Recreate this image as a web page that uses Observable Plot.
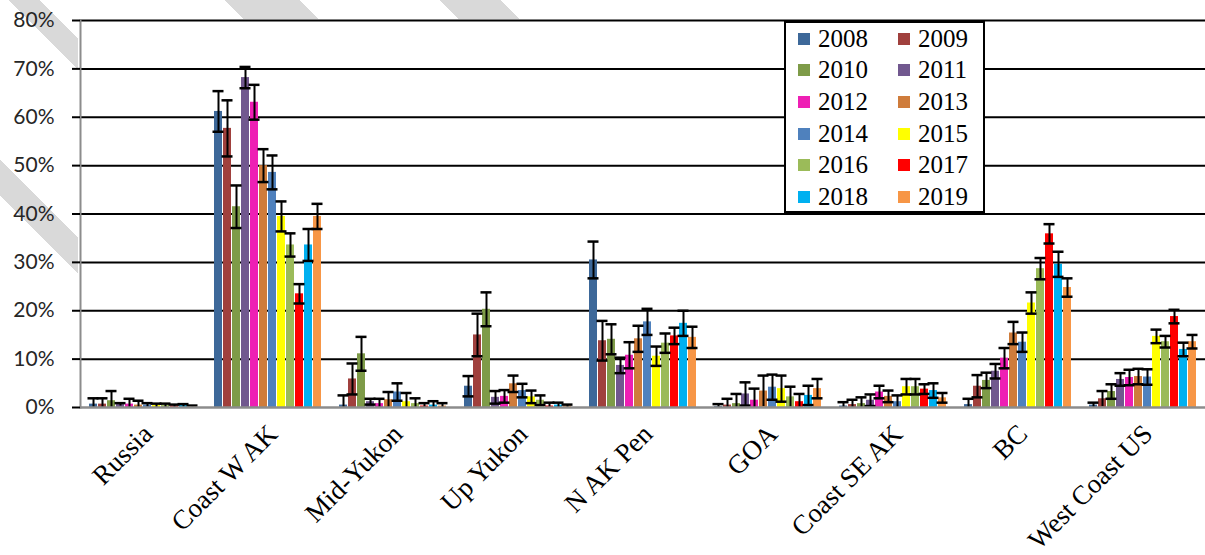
<!DOCTYPE html>
<html>
<head>
<meta charset="utf-8">
<script src="https://cdn.jsdelivr.net/npm/d3@7"></script>
<script src="https://cdn.jsdelivr.net/npm/@observablehq/plot@0.6"></script>
<style>
html, body { margin: 0; padding: 0; background: #fff; }
#wrap { position: relative; width: 1205px; height: 555px; overflow: hidden; }
#stripes { position: absolute; left: 0; top: 0; width: 1205px; height: 300px;
  clip-path: polygon(0 0, 1205px 0, 1205px 19px, 78px 19px, 78px 300px, 0 300px);
  background: linear-gradient(45deg,
    transparent 74px, #d9d9d9 74px, #d9d9d9 99px, transparent 99px,
    transparent 218px, #d9d9d9 218px, #d9d9d9 240px, transparent 240px,
    transparent 371px, #d9d9d9 371px, #d9d9d9 424px, transparent 424px,
    transparent 523px, #d9d9d9 523px, #d9d9d9 566px, transparent 566px); }
#chart { position: absolute; left: 0; top: 0; }
#legend { position: absolute; left: 784px; top: 21px; width: 201px; height: 192px;
  background: #fff; border: 2px solid #000; box-sizing: border-box;
  display: grid; grid-template-columns: 100px 100px; grid-auto-rows: 31.6px;
  font-family: "Liberation Serif", "Times New Roman", serif; font-size: 25px; color: #000; }
#legend .item { display: flex; align-items: center; padding-left: 12px; }
#legend .sw { width: 12px; height: 12px; margin-right: 8px; flex: none; }
</style>
</head>
<body>
<div id="wrap">
  <div id="stripes"></div>
  <div id="chart"></div>
  <div id="legend"></div>
</div>
<script>
const regions = ["Russia", "Coast W AK", "Mid-Yukon", "Up Yukon", "N AK Pen", "GOA", "Coast SE AK", "BC", "West Coast US"];
const years = ["2008", "2009", "2010", "2011", "2012", "2013", "2014", "2015", "2016", "2017", "2018", "2019"];
const colors = ["#3d6899", "#a0403d", "#7e9b48", "#71588f", "#ee1fb4", "#cf7c3b", "#4f81bd", "#ffff00", "#9bbb59", "#ff0000", "#00b0f0", "#f79646"];
const yTicks = [0, 10, 20, 30, 40, 50, 60, 70, 80];

// percent values per region, one per year
const russia      = [0.7, 0.7, 1.4, 0.6, 0.7, 0.5, 0.5, 0.4, 0.4, 0.3, 0.4, 0.2];
const coastWAK    = [61.2, 57.7, 41.5, 68.2, 63.1, 50.0, 48.6, 39.5, 33.6, 23.5, 33.6, 39.5];
const midYukon    = [0.5, 5.9, 11.1, 1.2, 0.8, 1.6, 3.2, 1.2, 0.8, 0.3, 0.5, 0.3];
const upYukon     = [4.4, 15.0, 20.3, 2.1, 2.3, 4.9, 3.5, 2.2, 1.5, 0.3, 0.5, 0.3];
const nAKPen      = [30.5, 13.8, 14.1, 8.7, 10.8, 14.2, 17.7, 10.6, 13.3, 14.8, 17.4, 14.5];
const goa         = [0.2, 0.5, 0.8, 2.8, 1.5, 3.4, 4.2, 3.9, 2.2, 1.2, 2.5, 3.9];
const coastSEAK   = [0.3, 0.6, 0.8, 1.5, 3.2, 2.3, 1.2, 4.3, 4.3, 3.8, 3.5, 2.0];
const bc          = [0.6, 4.4, 5.6, 7.5, 10.2, 15.4, 13.5, 21.6, 28.7, 35.9, 29.6, 24.8];
const westCoastUS = [0.5, 1.8, 3.3, 5.8, 6.2, 6.4, 6.3, 14.7, 13.6, 18.8, 12.0, 13.6];

// error bar half-widths (percent)
const russiaErr      = [1.2, 1.2, 2.0, 0.3, 1.1, 0.9, 0.4, 0.4, 0.4, 0.3, 0.3, 0.2];
const coastWAKErr    = [4.2, 5.8, 4.4, 2.2, 3.6, 3.4, 3.5, 3.1, 2.4, 2.0, 3.3, 2.6];
const midYukonErr    = [2.0, 3.2, 3.5, 0.6, 1.0, 1.6, 1.8, 1.8, 1.1, 0.6, 0.8, 0.6];
const upYukonErr     = [2.1, 4.4, 3.5, 1.3, 1.3, 1.7, 1.4, 1.3, 1.0, 0.7, 0.5, 0.3];
const nAKPenErr      = [3.8, 4.1, 3.1, 1.6, 2.7, 2.7, 2.7, 2.0, 2.0, 1.7, 2.6, 2.2];
const goaErr         = [0.5, 1.3, 2.0, 2.4, 2.4, 3.2, 2.6, 2.7, 2.1, 1.6, 2.0, 2.0];
const coastSEAKErr   = [0.8, 1.0, 1.3, 1.2, 1.3, 1.2, 1.3, 1.6, 1.6, 1.0, 1.5, 1.0];
const bcErr          = [1.2, 2.3, 1.6, 1.5, 2.1, 2.3, 2.0, 2.2, 2.2, 2.0, 2.6, 1.9];
const westCoastUSErr = [0.5, 1.6, 1.5, 1.3, 1.6, 1.6, 1.6, 1.4, 1.2, 1.4, 1.4, 1.4];

const valueRows = [russia, coastWAK, midYukon, upYukon, nAKPen, goa, coastSEAK, bc, westCoastUS];
const errRows = [russiaErr, coastWAKErr, midYukonErr, upYukonErr, nAKPenErr, goaErr, coastSEAKErr, bcErr, westCoastUSErr];

const data = regions.flatMap((r, i) => years.map((yr, j) => ({
  region: r, year: yr, value: valueRows[i][j], err: errRows[i][j]
})));

const plot = Plot.plot({
  width: 1205,
  height: 555,
  marginTop: 20,
  marginBottom: 148,
  marginLeft: 79,
  marginRight: 0,
  style: {background: "transparent", overflow: "visible"},
  fx: {domain: regions, padding: 0, label: null, axis: null},
  x: {domain: years, paddingInner: 0.13, paddingOuter: 0.55, axis: null},
  y: {domain: [0, 80], label: null, axis: null},
  color: {domain: years, range: colors},
  marks: [
    Plot.frame({fill: "white", stroke: null}),
    Plot.gridY(yTicks.slice(1), {stroke: "black", strokeOpacity: 1, strokeWidth: 2}),
    Plot.barY(data, {fx: "region", x: "year", y: "value", fill: "year"}),
    Plot.ruleX(data, {fx: "region", x: "year", y1: d => Math.max(0, d.value - d.err), y2: d => d.value + d.err, stroke: "black", strokeWidth: 2}),
    Plot.tickY(data, {fx: "region", x: "year", y: d => d.value + d.err, stroke: "black", strokeWidth: 2.5, inset: -1.5}),
    Plot.tickY(data.filter(d => d.value - d.err > 0.3), {fx: "region", x: "year", y: d => d.value - d.err, stroke: "black", strokeWidth: 2.5, inset: -1.5}),
    Plot.ruleY([0], {stroke: "#8c8c8c", strokeWidth: 2.5}),
    Plot.frame({anchor: "left", stroke: "#8c8c8c", strokeWidth: 2, facetAnchor: "left"}),
    Plot.axisY(yTicks, {tickSize: 8, tickPadding: 18, tickFormat: d => d + "%", fontSize: 21, fontFamily: "Lato", stroke: "black", strokeWidth: 2, fill: "#262626", label: null}),
    Plot.axisFx({anchor: "bottom", tickRotate: -45, tickSize: 0, tickPadding: 22, dx: 5, fontSize: 27, fontFamily: "Liberation Serif", fill: "#000", label: null})
  ]
});
document.getElementById("chart").appendChild(plot);

const colorScale = plot.scale("color");
const legend = document.getElementById("legend");
years.forEach(yr => {
  const item = document.createElement("div");
  item.className = "item";
  const sw = document.createElement("span");
  sw.className = "sw";
  sw.style.background = colorScale.apply(yr);
  const t = document.createElement("span");
  t.textContent = yr;
  item.appendChild(sw);
  item.appendChild(t);
  legend.appendChild(item);
});
</script>
</body>
</html>
